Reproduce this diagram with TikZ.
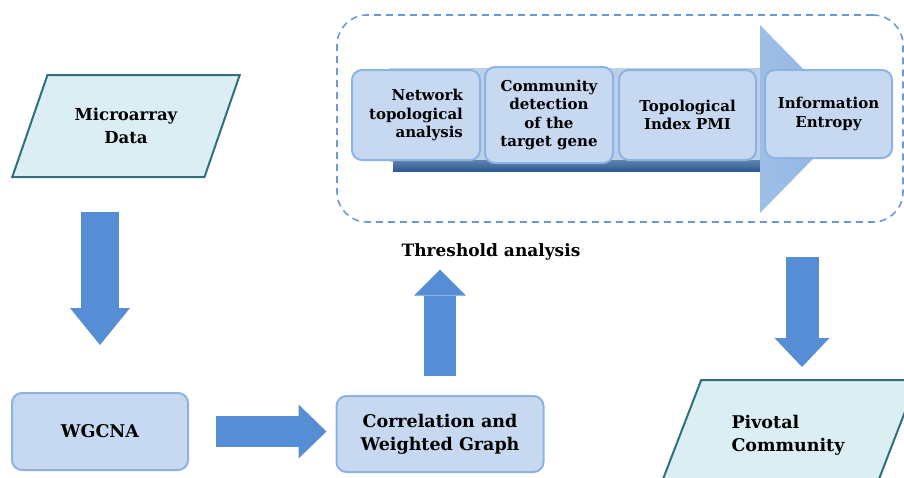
\documentclass[tikz,border=0pt]{standalone}
\usepackage{fontspec}
\setmainfont{DejaVu Serif}
\usetikzlibrary{arrows.meta,shapes.geometric}

\definecolor{boxfill}{HTML}{C6D9F1}
\definecolor{boxline}{HTML}{8DB3E2}
\definecolor{datafill}{HTML}{DAEEF3}
\definecolor{dataline}{HTML}{31707A}
\definecolor{arrowblue}{HTML}{558ED5}
\definecolor{framedash}{HTML}{6A9BD8}
\definecolor{shaftlight}{HTML}{BDD0EA}
\definecolor{shaftdark}{HTML}{2C5A94}
\definecolor{headblue}{HTML}{8DB3E2}

\begin{document}
\begin{tikzpicture}[x=1pt,y=-1pt,
  every node/.style={font=\bfseries},
  stagebox/.style={rectangle, rounded corners=10pt, fill=boxfill, draw=boxline,
    line width=2pt, align=center, inner sep=2pt},
  databox/.style={trapezium, trapezium stretches=true, fill=datafill,
    draw=dataline, line width=2pt},
  framebox/.style={rectangle, rounded corners=30pt, draw=framedash,
    line width=1.6pt, dash pattern=on 7pt off 5pt},
  fat/.style n args={3}{arrowblue, line width=#1,
    -{Triangle[width=#2, length=#3, line width=0pt]}},
  smalltext/.style={font=\bfseries\fontsize{15}{18.5}\selectfont},
  bigtext/.style={font=\bfseries\fontsize{17.5}{23}\selectfont}]
  \useasboundingbox (0,0) rectangle (904,477);

  % pipeline inside the dashed frame
  \node[framebox, minimum width=566pt, minimum height=207pt] (frame) at (620,118.5) {};
  \fill[shaftlight] (390,68) rectangle (760,162);
  \shade[top color=shaftdark!75, bottom color=shaftdark] (393,160) rectangle (760,171);
  \shade[left color=headblue!85, right color=headblue] (760,25) -- (852,119) -- (760,213) -- cycle;
  \node[stagebox, smalltext, align=right, minimum width=128pt, minimum height=90pt] (nta) at (416,115)
    {Network\\topological\\analysis};
  \node[stagebox, smalltext, minimum width=128pt, minimum height=96pt] (comm) at (549,115)
    {Community\\detection\\of the\\target gene};
  \node[stagebox, smalltext, minimum width=137pt, minimum height=90pt] (pmi) at (687.5,115)
    {Topological\\Index PMI};
  \node[stagebox, smalltext, minimum width=127pt, minimum height=88pt] (entropy) at (828.5,114)
    {Information\\Entropy};

  % inputs and outputs
  \node[databox, font=\bfseries\fontsize{16.5}{23}\selectfont, align=center,
    trapezium left angle=60, trapezium right angle=120,
    minimum width=228pt, minimum height=102pt] (micro) at (126,126) {Microarray\\Data};
  \node[databox, bigtext, align=left, trapezium left angle=58, trapezium right angle=122,
    minimum width=259pt, minimum height=110pt] (pivotal) at (788,435) {Pivotal\\Community};

  \node[stagebox, bigtext, minimum width=176pt, minimum height=77pt] (wgcna) at (100,431.5) {WGCNA};
  \node[stagebox, bigtext, minimum width=207pt, minimum height=76pt] (corr) at (440,434)
    {Correlation and\\Weighted Graph};
  \node[font=\bfseries\fontsize{17}{20}\selectfont, inner sep=0pt] (thr) at (491,252) {Threshold analysis};

  % block arrows
  \coordinate (drop) at (802,380);
  \draw[fat={38pt}{60pt}{37pt}, shorten <=34pt, shorten >=47pt] (wgcna.north |- micro.south) -- (wgcna.north);
  \draw[fat={31pt}{54pt}{28pt}, shorten <=27pt, shorten >=9pt] (wgcna.east) -- (corr.west |- wgcna.east);
  \draw[fat={32pt}{52pt}{26pt}, shorten <=19pt, shorten >=9pt] (corr.north) -- (corr.north |- thr.south);
  \draw[fat={33pt}{55pt}{29pt}, shorten <=34pt, shorten >=13pt] (drop |- frame.south) -- (drop);
\end{tikzpicture}
\end{document}
